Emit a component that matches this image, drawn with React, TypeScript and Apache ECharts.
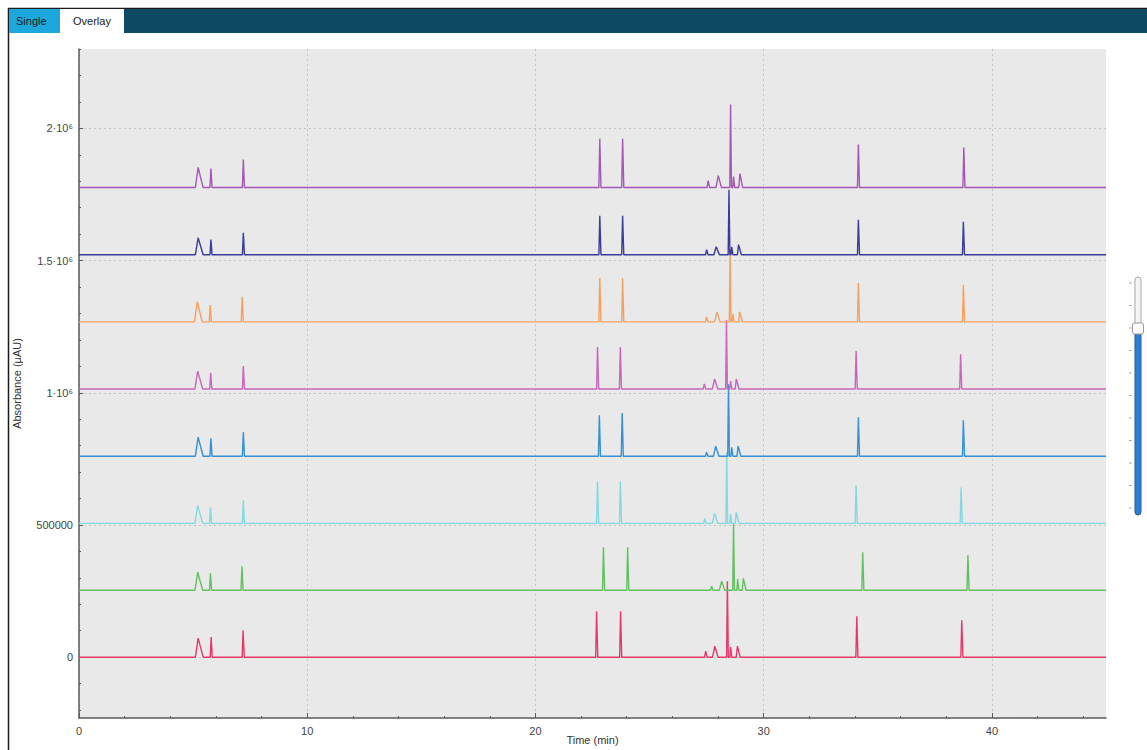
import React, { useEffect, useRef } from "react";
import * as echarts from "echarts";

// ---- Data ----
const TRACE_NAMES = ["Run 1", "Run 2", "Run 3", "Run 4", "Run 5", "Run 6", "Run 7", "Run 8"];
const TRACE_COLORS = ["#e8386a", "#62c062", "#86d8e0", "#3590d6", "#c965bd", "#f7a05e", "#3a3c9c", "#a457b8"];
const TRACE_OFFSETS = [0, 253000, 506000, 760000, 1014000, 1268000, 1522000, 1776000];

// peak retention times (min) per trace
const RED_TIMES = [5.22, 5.79, 7.19, 22.68, 23.73, 27.46, 27.86, 28.41, 28.55, 28.85, 34.08, 38.68];
const GREEN_TIMES = [5.2, 5.76, 7.14, 22.98, 24.04, 27.72, 28.16, 28.68, 28.86, 29.11, 34.34, 38.95];
const CYAN_TIMES = [5.2, 5.76, 7.2, 22.72, 23.72, 27.42, 27.85, 28.38, 28.55, 28.8, 34.05, 38.65];
const BLUE_TIMES = [5.22, 5.78, 7.2, 22.8, 23.8, 27.5, 27.9, 28.46, 28.6, 28.88, 34.15, 38.75];
const PINK_TIMES = [5.2, 5.77, 7.2, 22.72, 23.72, 27.4, 27.85, 28.37, 28.55, 28.8, 34.05, 38.63];
const ORANGE_TIMES = [5.18, 5.75, 7.15, 22.82, 23.82, 27.5, 27.95, 28.53, 28.65, 28.95, 34.15, 38.75];
const NAVY_TIMES = [5.22, 5.78, 7.2, 22.82, 23.82, 27.5, 27.92, 28.48, 28.6, 28.9, 34.15, 38.75];
const PURPLE_TIMES = [5.22, 5.78, 7.2, 22.82, 23.82, 27.57, 28.01, 28.55, 28.68, 28.96, 34.15, 38.77];

// peak heights above each trace's baseline (µAU)
const RED_HEIGHTS = [72000, 76000, 102000, 174000, 174000, 23000, 42000, 287000, 38000, 42000, 155000, 140000];
const GREEN_HEIGHTS = [68000, 64000, 91000, 163000, 163000, 15000, 34000, 253000, 42000, 45000, 144000, 132000];
const CYAN_HEIGHTS = [68000, 61000, 87000, 159000, 159000, 19000, 38000, 269000, 34000, 42000, 144000, 136000];
const BLUE_HEIGHTS = [72000, 68000, 91000, 155000, 163000, 15000, 38000, 272000, 34000, 38000, 147000, 136000];
const PINK_HEIGHTS = [68000, 61000, 87000, 159000, 159000, 19000, 38000, 261000, 30000, 38000, 144000, 132000];
const ORANGE_HEIGHTS = [76000, 64000, 95000, 166000, 166000, 19000, 38000, 276000, 30000, 38000, 147000, 140000];
const NAVY_HEIGHTS = [64000, 57000, 83000, 147000, 147000, 19000, 30000, 246000, 30000, 38000, 132000, 125000];
const PURPLE_HEIGHTS = [76000, 72000, 106000, 185000, 185000, 26000, 45000, 314000, 42000, 53000, 163000, 151000];

// peak base half-widths (min), before and after the apex
const PEAK_LEFT_WIDTH = [0.12, 0.04, 0.04, 0.04, 0.04, 0.05, 0.1, 0.035, 0.035, 0.05, 0.04, 0.04];
const PEAK_RIGHT_WIDTH = [0.22, 0.05, 0.05, 0.05, 0.05, 0.06, 0.14, 0.04, 0.05, 0.12, 0.05, 0.05];

const TRACE_TIMES = [RED_TIMES, GREEN_TIMES, CYAN_TIMES, BLUE_TIMES, PINK_TIMES, ORANGE_TIMES, NAVY_TIMES, PURPLE_TIMES];
const TRACE_HEIGHTS = [RED_HEIGHTS, GREEN_HEIGHTS, CYAN_HEIGHTS, BLUE_HEIGHTS, PINK_HEIGHTS, ORANGE_HEIGHTS, NAVY_HEIGHTS, PURPLE_HEIGHTS];

// axes
const X_MIN = 0;
const X_MAX = 45;
const Y_MIN = -230000;
const Y_MAX = 2300000;
const X_MAJOR_TICKS = [0, 10, 20, 30, 40];
const X_MINOR_TICKS = [2, 4, 6, 8, 12, 14, 16, 18, 22, 24, 26, 28, 32, 34, 36, 38, 42, 44];
const Y_MAJOR_TICKS = [0, 500000, 1000000, 1500000, 2000000];
const Y_MINOR_TICKS = [
  -200000, -100000, 100000, 200000, 300000, 400000, 600000, 700000, 800000, 900000,
  1100000, 1200000, 1300000, 1400000, 1600000, 1700000, 1800000, 1900000, 2100000, 2200000, 2300000,
];
const Y_LABELS: Record<number, string> = {
  0: "0",
  500000: "500000",
  1000000: "1·10⁶",
  1500000: "1.5·10⁶",
  2000000: "2·10⁶",
};

const FONT = "'Liberation Sans', Arial, sans-serif";

function buildTrace(i: number): number[][] {
  const base = TRACE_OFFSETS[i];
  const times = TRACE_TIMES[i];
  const heights = TRACE_HEIGHTS[i];
  const pts: number[][] = [[X_MIN, base]];
  times.forEach((t, k) => {
    pts.push([t - PEAK_LEFT_WIDTH[k], base]);
    pts.push([t, base + heights[k]]);
    pts.push([t + PEAK_RIGHT_WIDTH[k], base]);
  });
  pts.push([X_MAX, base]);
  return pts;
}

export default function App() {
  const ref = useRef<HTMLDivElement>(null);

  useEffect(() => {
    if (!ref.current) return;
    const chart = echarts.init(ref.current, undefined, { renderer: "svg" });

    const gridLine = { show: true, lineStyle: { color: "#c4c6c4", type: [2, 3] as any, width: 1 } };

    const sliderTicks = [];
    for (let k = 0; k < 11; k++) {
      const y = 283 + k * 22.5;
      sliderTicks.push({
        type: "line",
        shape: { x1: 1129, y1: y, x2: 1131.5, y2: y },
        style: { stroke: "#a0a0a0", lineWidth: 1 },
        silent: true,
      });
    }

    const option: any = {
      animation: false,
      backgroundColor: "#ffffff",
      grid: {
        left: 79,
        top: 49,
        right: 41,
        bottom: 32,
        containLabel: false,
        outerBoundsMode: "none",
        show: true,
        backgroundColor: "#e8e9e8",
        borderWidth: 0,
      },
      xAxis: [
        {
          type: "value",
          min: X_MIN,
          max: X_MAX,
          name: "Time (min)",
          nameLocation: "middle",
          nameGap: 16,
          nameMoveOverlap: false,
          nameTextStyle: { fontFamily: FONT, fontSize: 11, color: "#333" },
          axisLine: { show: true, onZero: false, lineStyle: { color: "#5a5a5a", width: 1.5 } },
          axisTick: { show: true, inside: true, length: 5, customValues: X_MAJOR_TICKS, lineStyle: { color: "#5a5a5a" } },
          axisLabel: { show: true, customValues: X_MAJOR_TICKS, fontFamily: FONT, fontSize: 11, color: "#444", margin: 7 },
          splitLine: gridLine,
          minorTick: { show: false },
        },
        {
          type: "value",
          min: X_MIN,
          max: X_MAX,
          position: "bottom",
          axisLine: { show: false, onZero: false },
          axisTick: { show: true, inside: true, length: 2, customValues: X_MINOR_TICKS, lineStyle: { color: "#5a5a5a" } },
          axisLabel: { show: false },
          splitLine: { show: false },
        },
      ],
      yAxis: [
        {
          type: "value",
          min: Y_MIN,
          max: Y_MAX,
          name: "Absorbance (µAU)",
          nameLocation: "middle",
          nameGap: 57,
          nameRotate: 90,
          nameTextStyle: { fontFamily: FONT, fontSize: 11, color: "#333" },
          axisLine: { show: true, onZero: false, lineStyle: { color: "#5a5a5a", width: 1.5 } },
          axisTick: { show: true, inside: true, length: 4, customValues: Y_MAJOR_TICKS, lineStyle: { color: "#5a5a5a" } },
          axisLabel: {
            show: true,
            customValues: Y_MAJOR_TICKS,
            fontFamily: FONT,
            fontSize: 11,
            color: "#444",
            margin: 6,
            formatter: (v: number) => Y_LABELS[v] ?? String(v),
          },
          splitLine: gridLine,
        },
        {
          type: "value",
          min: Y_MIN,
          max: Y_MAX,
          position: "left",
          axisLine: { show: false, onZero: false },
          axisTick: { show: true, inside: true, length: 2, customValues: Y_MINOR_TICKS, lineStyle: { color: "#5a5a5a" } },
          axisLabel: { show: false },
          splitLine: { show: false },
        },
      ],
      series: TRACE_NAMES.map((name, i) => ({
        name,
        type: "line",
        xAxisIndex: 0,
        yAxisIndex: 0,
        data: buildTrace(i),
        showSymbol: false,
        symbol: "none",
        smooth: false,
        silent: true,
        lineStyle: { color: TRACE_COLORS[i], width: 1.4 },
        itemStyle: { color: TRACE_COLORS[i] },
        emphasis: { disabled: true },
        z: 2 + i,
      })),
      graphic: [
        // window border
        { type: "line", shape: { x1: 8.5, y1: 8, x2: 8.5, y2: 750 }, style: { stroke: "#1a1a1a", lineWidth: 1.5 }, silent: true },
        { type: "line", shape: { x1: 8, y1: 8.5, x2: 1147, y2: 8.5 }, style: { stroke: "#1a1a1a", lineWidth: 1.5 }, silent: true },
        // tab bar
        { type: "rect", shape: { x: 9, y: 9, width: 1138, height: 24 }, style: { fill: "#0d4865" }, silent: true },
        { type: "rect", shape: { x: 9, y: 9, width: 51, height: 24 }, style: { fill: "#1ca8dc" }, silent: true },
        { type: "rect", shape: { x: 60, y: 9, width: 64, height: 26 }, style: { fill: "#ffffff" }, silent: true },
        {
          type: "text",
          x: 16,
          y: 21,
          style: { text: "Single", font: `11px ${FONT}`, fill: "#1a1a1a", textVerticalAlign: "middle", verticalAlign: "middle" },
          silent: true,
        },
        {
          type: "text",
          x: 73,
          y: 21,
          style: { text: "Overlay", font: `11px ${FONT}`, fill: "#1a1a1a", textVerticalAlign: "middle", verticalAlign: "middle" },
          silent: true,
        },
        // slider
        ...sliderTicks,
        {
          type: "rect",
          shape: { x: 1135, y: 277, width: 6, height: 54, r: 3 },
          style: { fill: "#f3f3f3", stroke: "#a8a8a8", lineWidth: 1 },
          silent: true,
        },
        {
          type: "rect",
          shape: { x: 1135, y: 330, width: 6, height: 185, r: 3 },
          style: { fill: "#2f7dd1", stroke: "#1d5fa8", lineWidth: 1 },
          silent: true,
        },
        {
          type: "rect",
          shape: { x: 1132.5, y: 323, width: 11, height: 11, r: 2 },
          style: { fill: "#ffffff", stroke: "#9a9a9a", lineWidth: 1 },
          silent: true,
        },
      ],
    };

    chart.setOption(option);
    return () => chart.dispose();
  }, []);

  return (
    <div
      ref={ref}
      style={{ position: "fixed", left: 0, top: 0, width: 1147, height: 750, background: "#fff" }}
    />
  );
}
